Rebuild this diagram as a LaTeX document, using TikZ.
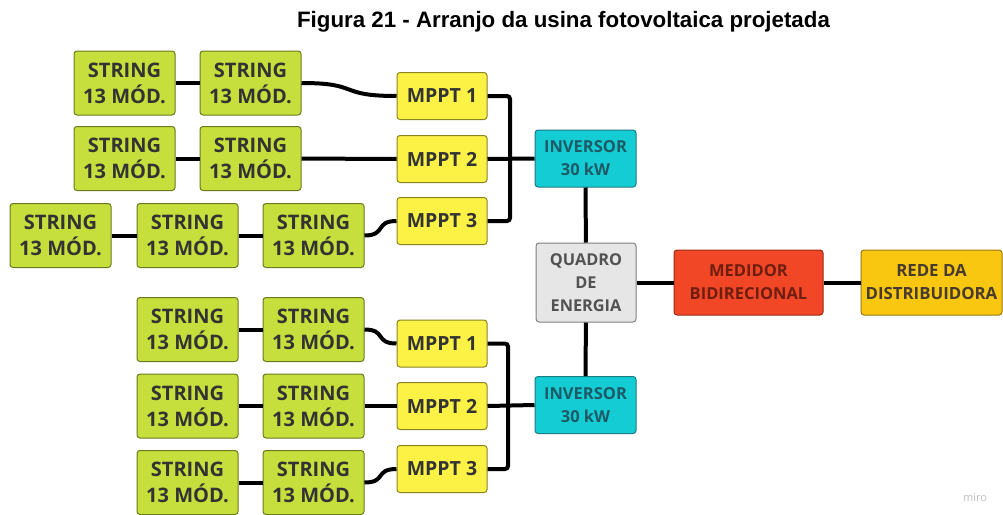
\documentclass[tikz,border=0pt]{standalone}
\usepackage{fontspec}
\setmainfont{Open Sans}
\newfontfamily\titlefont{Liberation Sans}
\definecolor{strfill}{HTML}{C6DF3C}
\definecolor{strdraw}{HTML}{6B7A1E}
\definecolor{mpfill}{HTML}{FCF246}
\definecolor{mpdraw}{HTML}{8A8420}
\definecolor{invfill}{HTML}{14CDD4}
\definecolor{invdraw}{HTML}{1A7C84}
\definecolor{invtxt}{HTML}{1E5A66}
\definecolor{qfill}{HTML}{E6E6E6}
\definecolor{qdraw}{HTML}{808080}
\definecolor{medfill}{HTML}{F24726}
\definecolor{meddraw}{HTML}{9A2A14}
\definecolor{medtxt}{HTML}{6E1E10}
\definecolor{redefill}{HTML}{FAC710}
\definecolor{rededraw}{HTML}{9A7A10}
\definecolor{txt}{HTML}{333333}
\begin{document}
\begin{tikzpicture}[x=1pt,y=-1pt,
  base/.style={rectangle, rounded corners=3pt, line width=1pt, inner sep=0pt, align=center, text=txt},
  strbox/.style={base, draw=strdraw, fill=strfill, minimum width=101pt, minimum height=64pt, font=\bfseries\fontsize{20}{26}\selectfont},
  mppt/.style={base, draw=mpdraw, fill=mpfill, minimum width=90pt, minimum height=47pt, font=\bfseries\fontsize{19.5}{22}\selectfont},
  inv/.style={base, draw=invdraw, fill=invfill, minimum width=101pt, minimum height=57pt, text=invtxt, font=\bfseries\fontsize{16.5}{23}\selectfont},
  quadro/.style={base, draw=qdraw, fill=qfill, minimum width=100pt, minimum height=79pt, text=txt!85, font=\bfseries\fontsize{16.3}{23}\selectfont},
  med/.style={base, draw=meddraw, fill=medfill, minimum width=149pt, minimum height=65pt, text=medtxt, font=\bfseries\fontsize{16.5}{23}\selectfont},
  rede/.style={base, draw=rededraw, fill=redefill, minimum width=141pt, minimum height=65pt, text=txt!90!orange, font=\bfseries\fontsize{16.8}{23}\selectfont},
  wire/.style={line width=4pt, black},
  bus/.style={line width=4pt, black, rounded corners=3pt}
]
\useasboundingbox (0,0) rectangle (1003,514);
\fill[white] (0,0) rectangle (1003,514);
\node[font=\titlefont\bfseries\fontsize{22.3}{26}\selectfont] (title) at (563.5,22) {Figura 21 - Arranjo da usina fotovoltaica projetada};

% top group
\node[strbox] (a1) at (124.5,83) {STRING\\13 MÓD.};
\node[strbox] (b1) at (250.5,83) {STRING\\13 MÓD.};
\node[strbox] (a2) at (124.5,158.5) {STRING\\13 MÓD.};
\node[strbox] (b2) at (250.5,158.5) {STRING\\13 MÓD.};
\node[strbox] (c3) at (60.5,235.5) {STRING\\13 MÓD.};
\node[strbox] (a3) at (187.5,235.5) {STRING\\13 MÓD.};
\node[strbox] (b3) at (313.5,235.5) {STRING\\13 MÓD.};
\node[mppt] (m1) at (442,96) {MPPT 1};
\node[mppt] (m2) at (442,159) {MPPT 2};
\node[mppt] (m3) at (442,221) {MPPT 3};
\node[inv] (inv1) at (585.5,158.5) {INVERSOR\\30 kW};
\coordinate (bt) at (510,159);

% center
\node[quadro] (q) at (586,282.5) {QUADRO\\DE\\ENERGIA};
\node[med] (med) at (748.5,282.5) {MEDIDOR\\BIDIRECIONAL};
\node[rede] (rede) at (931.5,282.5) {REDE DA\\DISTRIBUIDORA};
\node[inv] (inv2) at (585.5,405) {INVERSOR\\30 kW};

% bottom group
\node[strbox] (d1) at (187.5,329.5) {STRING\\13 MÓD.};
\node[strbox] (e1) at (313.5,329.5) {STRING\\13 MÓD.};
\node[strbox] (d2) at (187.5,406) {STRING\\13 MÓD.};
\node[strbox] (e2) at (313.5,406) {STRING\\13 MÓD.};
\node[strbox] (d3) at (187.5,482.5) {STRING\\13 MÓD.};
\node[strbox] (e3) at (313.5,482.5) {STRING\\13 MÓD.};
\node[mppt] (n1) at (442,343.5) {MPPT 1};
\node[mppt] (n2) at (442,406) {MPPT 2};
\node[mppt] (n3) at (442,469) {MPPT 3};
\coordinate (bb) at (508,406);

\node[text=black!25, font=\fontsize{11}{12}\selectfont] (miro) at (975,498) {miro};

% wires top
\draw[wire] (a1) -- (b1);
\draw[wire] (b1.east) .. controls +(60,0) and +(-60,0) .. (m1.west);
\draw[wire] (a2) -- (b2);
\draw[wire] (b2) -- (m2);
\draw[wire] (c3) -- (a3);
\draw[wire] (a3) -- (b3);
\draw[wire] (b3.east) .. controls +(22,0) and +(-22,0) .. (m3.west);
\draw[bus] (m1.east) -| (bt) |- (m3.east);
\draw[wire] (m2.east) -- (inv1.west);
\draw[wire] (inv1) -- (q);
\draw[wire] (q) -- (med);
\draw[wire] (med) -- (rede);
\draw[wire] (q) -- (inv2);

% wires bottom
\draw[wire] (d1) -- (e1);
\draw[wire] (e1.east) .. controls +(22,0) and +(-22,0) .. (n1.west);
\draw[wire] (d2) -- (e2);
\draw[wire] (e2) -- (n2);
\draw[wire] (d3) -- (e3);
\draw[wire] (e3.east) .. controls +(22,0) and +(-22,0) .. (n3.west);
\draw[bus] (n1.east) -| (bb) |- (n3.east);
\draw[wire] (n2.east) -- (inv2.west);
\end{tikzpicture}
\end{document}
